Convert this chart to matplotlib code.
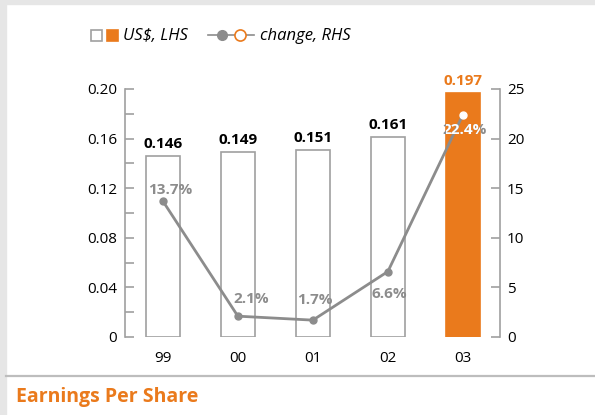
import matplotlib
matplotlib.use("Agg")
import matplotlib.pyplot as plt
from matplotlib.patches import Rectangle
from matplotlib.lines import Line2D

plt.rcParams['font.family'] = ['Open Sans', 'DejaVu Sans']

years = ["99", "00", "01", "02", "03"]
eps = [0.146, 0.149, 0.151, 0.161, 0.197]
change = [13.7, 2.1, 1.7, 6.6, 22.4]
change_labels = ["13.7%", "2.1%", "1.7%", "6.6%", "22.4%"]
left_ticks = [0, 0.04, 0.08, 0.12, 0.16, 0.20]
left_tick_labels = ["0", "0.04", "0.08", "0.12", "0.16", "0.20"]
right_ticks = [0, 5, 10, 15, 20, 25]

ORANGE = "#EA7A1C"
GREY = "#8C8C8C"
EDGE = "#A0A0A0"

W, H = 595, 415
fig = plt.figure(figsize=(W / 100, H / 100), dpi=100)

def fx(px):
    return px / W

def fy(py):
    return 1 - py / H

# background bands
fig.add_artist(Rectangle((0, fy(4)), 1, 4 / H, transform=fig.transFigure, color="#E6E6E6", zorder=0))
fig.add_artist(Rectangle((0, 0), 6 / W, 1, transform=fig.transFigure, color="#E6E6E6", zorder=0))
fig.add_artist(Line2D([fx(6), 1], [fy(376), fy(376)], transform=fig.transFigure, color="#BDBDBD", lw=1.6))

ax = fig.add_axes([fx(125), fy(337), fx(500) - fx(125), fy(89) - fy(337)])
ax2 = ax.twinx()

x = list(range(len(years)))
colors = ["white"] * 4 + [ORANGE]
edges = [EDGE] * 4 + [ORANGE]
bars = ax.bar(x, eps, width=0.45, color=colors, edgecolor=edges, linewidth=1.2, zorder=2)

ax.set_xlim(-0.505, 4.495)
ax.set_ylim(0, 0.20)
ax.set_yticks(left_ticks)
ax.set_yticklabels(left_tick_labels)
ax.set_yticks([0.02, 0.06, 0.10, 0.14, 0.18], minor=True)
ax.set_xticks(x)
ax.set_xticklabels(years)
for s in ["top", "bottom", "right"]:
    ax.spines[s].set_visible(False)
ax.spines["left"].set_color(EDGE)
ax.spines["left"].set_linewidth(1.2)
ax.tick_params(axis="y", which="both", direction="in", length=6.5, width=1.2, color=EDGE,
               labelsize=11, pad=5.5, labelcolor="black")
ax.tick_params(axis="x", length=0, labelsize=11, pad=10, labelcolor="black")

for i, (b, v) in enumerate(zip(bars, eps)):
    ax.annotate(f"{v:.3f}", (b.get_x() + b.get_width() / 2, v), xytext=(0, 12),
                textcoords="offset pixels", ha="center", va="center", fontsize=11,
                fontweight="bold", color=(ORANGE if i == 4 else "black"))

ax2.set_ylim(0, 25)
ax2.set_yticks(right_ticks)
for s in ["top", "bottom", "left"]:
    ax2.spines[s].set_visible(False)
ax2.spines["right"].set_color(EDGE)
ax2.spines["right"].set_linewidth(1.2)
ax2.tick_params(axis="y", direction="in", length=6.5, width=1.2, color=EDGE,
                labelsize=11, pad=5, labelcolor="black")

ax2.plot(x, change, color=GREY, lw=2, zorder=3)
ax2.plot(x[:4], change[:4], "o", color=GREY, ms=5, zorder=4)
ax2.plot(x[4:], change[4:], "o", mfc="white", mec="white", ms=5, zorder=4)

offsets = [(7, 11), (13, 17), (2, 20), (1, -22), (2, -15)]
for i, (xi, v, lab, off) in enumerate(zip(x, change, change_labels, offsets)):
    t = ax2.annotate(lab, (xi, v), xytext=off, textcoords="offset pixels", ha="center",
                     va="center", fontsize=11, fontweight="bold", color=GREY, zorder=5)
    if i == 4:
        t2 = ax2.annotate(lab, (xi, v), xytext=off, textcoords="offset pixels", ha="center",
                          va="center", fontsize=11, fontweight="bold", color="white", zorder=6)
        t2.set_clip_path(bars[4])

# legend (manual)
fig.add_artist(Rectangle((fx(91), fy(41)), 11 / W, 11 / H, transform=fig.transFigure,
                         facecolor="white", edgecolor=EDGE, lw=1.2))
fig.add_artist(Rectangle((fx(107), fy(41)), 11 / W, 11 / H, transform=fig.transFigure,
                         facecolor=ORANGE, edgecolor=ORANGE, lw=1.2))
fig.text(fx(123), fy(35.5), "US$, LHS", fontsize=12, style="italic", va="center", ha="left")
fig.add_artist(Line2D([fx(208), fx(254)], [fy(35.5), fy(35.5)], transform=fig.transFigure,
                      color=GREY, lw=1.2))
fig.add_artist(Line2D([fx(222)], [fy(35.5)], transform=fig.transFigure, marker="o",
                      color=GREY, ms=7, lw=0))
fig.add_artist(Line2D([fx(240)], [fy(35.5)], transform=fig.transFigure, marker="o",
                      mfc="white", mec=ORANGE, mew=1.2, ms=8, lw=0))
fig.text(fx(260), fy(35.5), "change, RHS", fontsize=12, style="italic", va="center", ha="left")

fig.text(fx(16), fy(397), "Earnings Per Share", fontsize=14, fontweight="bold",
         color=ORANGE, va="center", ha="left")

fig.savefig("out.png", dpi=100)
